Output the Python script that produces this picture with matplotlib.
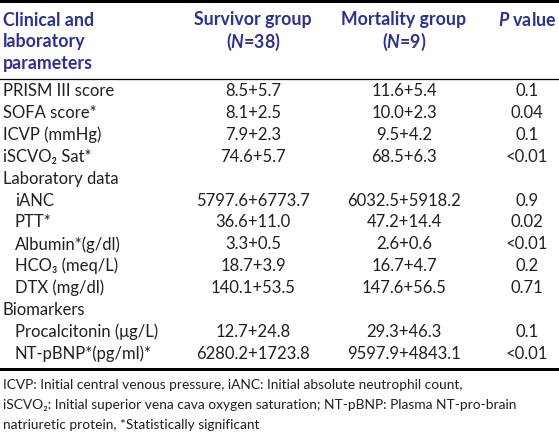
import matplotlib.pyplot as plt

plt.rcParams['font.family'] = ['Lato', 'DejaVu Sans']
plt.rcParams['mathtext.fontset'] = 'custom'
plt.rcParams['mathtext.it'] = 'Lato:bold:italic'
plt.rcParams['mathtext.rm'] = 'Lato:bold'

NAVY = '#2e3192'
INK = '#231f20'

# table content
params = ['PRISM III score', 'SOFA score*', 'ICVP (mmHg)', 'iSCVO\u2082 Sat*',
          'Laboratory data', 'iANC', 'PTT*', 'Albumin*(g/dl)', 'HCO\u2083 (meq/L)',
          'DTX (mg/dl)', 'Biomarkers', 'Procalcitonin (\u03bcg/L)', 'NT-pBNP*(pg/ml)*']
indented = [False, False, False, False, False, True, True, True, True, True, False, True, True]
survivor = ['8.5+5.7', '8.1+2.5', '7.9+2.3', '74.6+5.7', '', '5797.6+6773.7', '36.6+11.0',
            '3.3+0.5', '18.7+3.9', '140.1+53.5', '', '12.7+24.8', '6280.2+1723.8']
mortality = ['11.6+5.4', '10.0+2.3', '9.5+4.2', '68.5+6.3', '', '6032.5+5918.2', '47.2+14.4',
             '2.6+0.6', '16.7+4.7', '147.6+56.5', '', '29.3+46.3', '9597.9+4843.1']
p_values = ['0.1', '0.04', '0.1', '<0.01', '', '0.9', '0.02', '<0.01', '0.2', '0.71', '',
            '0.1', '<0.01']
footnotes = ['ICVP: Initial central venous pressure, iANC: Initial absolute neutrophil count,',
             'iSCVO\u2082: Initial superior vena cava oxygen saturation; NT-pBNP: Plasma NT-pro-brain',
             'natriuretic protein, *Statistically significant']

W, H = 559, 434
fig = plt.figure(figsize=(W / 100, H / 100), dpi=100)
ax = fig.add_axes([0, 0, 1, 1])
ax.set_xlim(0, W)
ax.set_ylim(H, 0)
ax.axis('off')

fs = 12
hfs = 12.8
x_lab, x_ind, x_s, x_m, x_p = 3, 15, 253, 404, 527

# header
for i, line in enumerate(['Clinical and', 'laboratory', 'parameters']):
    ax.text(x_lab, 20 + i * 22, line, fontsize=hfs, fontweight='bold', color=NAVY, va='center')
ax.text(x_s, 20, 'Survivor group', fontsize=hfs, fontweight='bold', color=NAVY, ha='center', va='center')
ax.text(x_s, 42, '($N$=38)', fontsize=hfs, fontweight='bold', color=NAVY, ha='center', va='center')
ax.text(x_m, 20, 'Mortality group', fontsize=hfs, fontweight='bold', color=NAVY, ha='center', va='center')
ax.text(x_m, 42, '($N$=9)', fontsize=hfs, fontweight='bold', color=NAVY, ha='center', va='center')
ax.text(x_p, 20, '$P$ value', fontsize=hfs, fontweight='bold', color=NAVY, ha='center', va='center')

# rules
ax.fill_between([0, W], 0, 3, color='black', lw=0)
ax.plot([0, W], [79, 79], color='black', lw=0.9)
ax.fill_between([0, W], 367.5, 370.5, color='black', lw=0)

# body
y0, dy = 91, 21.9
for i in range(len(params)):
    y = y0 + i * dy
    ax.text(x_ind if indented[i] else x_lab, y, params[i], fontsize=fs, color=INK, va='center')
    ax.text(x_s, y, survivor[i], fontsize=fs, color=INK, ha='center', va='center')
    ax.text(x_m, y, mortality[i], fontsize=fs, color=INK, ha='center', va='center')
    ax.text(x_p, y, p_values[i], fontsize=fs, color=INK, ha='center', va='center')

for i, line in enumerate(footnotes):
    ax.text(x_lab, 385 + i * 20, line, fontsize=9.9, color=INK, va='center')

fig.savefig('out.png', dpi=100)
